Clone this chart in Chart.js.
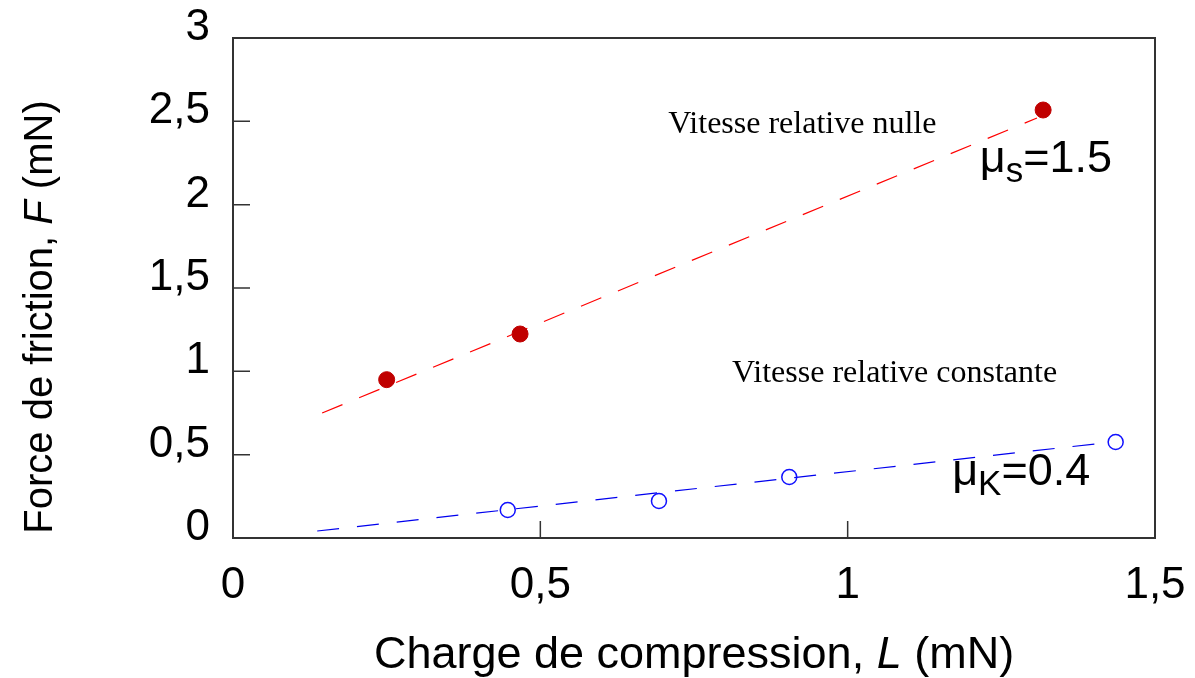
<!DOCTYPE html>
<html lang="fr">
<head>
<meta charset="utf-8">
<title>Force de friction</title>
<script src="https://cdn.jsdelivr.net/npm/chart.js@4.4.1/dist/chart.umd.min.js"></script>
<style>
  html, body { margin: 0; padding: 0; background: #fff; }
  #wrap { width: 1195px; height: 678px; }
</style>
</head>
<body>
<div id="wrap"><canvas id="frictionChart" width="1195" height="678"></canvas></div>
<script>
// Mesures : vitesse relative nulle (statique)
const chargeStatique = [0.25, 0.467, 1.318];
const forceStatique  = [0.95, 1.224, 2.568];

// Mesures : vitesse relative constante (cinétique)
const chargeCinetique = [0.447, 0.693, 0.905, 1.436];
const forceCinetique  = [0.168, 0.222, 0.366, 0.576];

// Droites d'ajustement (extrémités)
const fitStatiqueX  = [0.145, 1.308];
const fitStatiqueY  = [0.75, 2.52];
const fitCinetiqueX = [0.137, 1.402];
const fitCinetiqueY = [0.042, 0.564];

// Graduations des axes
const xTicks = [0, 0.5, 1, 1.5];
const yTicks = [0, 0.5, 1, 1.5, 2, 2.5, 3];

// Textes dans le graphe : [texte, indice, x, y, style]
const notes = [
  ["Vitesse relative nulle", "", 0.708, 2.43, "serif"],
  ["Vitesse relative constante", "", 0.812, 0.936, "serif"],
  ["μ", "s", 1.215, 2.196, "sans"],
  ["μ", "K", 1.17, 0.318, "sans"]
];
const noteValues = ["=1.5", "=0.4"];

const SANS = '"Liberation Sans", Arial, sans-serif';
const SERIF = '"Liberation Serif", "Times New Roman", serif';

const pts = (xs, ys) => xs.map((x, i) => ({ x, y: ys[i] }));
const fmt = (v) => String(v).replace(".", ",");

// Cadre + graduations vers l'intérieur
const framePlugin = {
  id: "frame",
  afterDatasetsDraw(chart) {
    const { ctx, chartArea: a, scales } = chart;
    ctx.save();
    ctx.strokeStyle = "#333";
    ctx.lineWidth = 2;
    ctx.strokeRect(a.left, a.top, a.right - a.left, a.bottom - a.top);
    ctx.lineWidth = 1.5;
    ctx.beginPath();
    yTicks.forEach((v) => {
      const y = scales.y.getPixelForValue(v);
      ctx.moveTo(a.left, y);
      ctx.lineTo(a.left + 17, y);
    });
    xTicks.forEach((v) => {
      const x = scales.x.getPixelForValue(v);
      ctx.moveTo(x, a.bottom);
      ctx.lineTo(x, a.bottom - 17);
    });
    ctx.stroke();
    ctx.restore();
  }
};

// Titres des axes (avec F et L en italique) et annotations
function drawParts(ctx, parts, x, y) {
  let w = 0;
  parts.forEach((p) => { ctx.font = p[1]; w += ctx.measureText(p[0]).width; });
  let cx = x - w / 2;
  parts.forEach((p) => {
    ctx.font = p[1];
    ctx.fillText(p[0], cx, y);
    cx += ctx.measureText(p[0]).width;
  });
}

const textPlugin = {
  id: "texts",
  afterDraw(chart) {
    const { ctx, chartArea: a, scales } = chart;
    ctx.save();
    ctx.fillStyle = "#000";
    ctx.textBaseline = "alphabetic";
    ctx.textAlign = "left";

    const nx = "45px " + SANS, itx = "italic 45px " + SANS;
    drawParts(ctx, [["Charge de compression, ", nx], ["L", itx], [" (mN)", nx]],
      (a.left + a.right) / 2, 668);

    const ny = "40px " + SANS, ity = "italic 40px " + SANS;
    ctx.translate(52, (a.top + a.bottom) / 2 + 29);
    ctx.rotate(-Math.PI / 2);
    drawParts(ctx, [["Force de friction, ", ny], ["F", ity], [" (mN)", ny]], 0, 0);
    ctx.setTransform(1, 0, 0, 1, 0, 0);

    notes.forEach((t, i) => {
      const x = scales.x.getPixelForValue(t[2]);
      const y = scales.y.getPixelForValue(t[3]);
      if (t[4] === "serif") {
        ctx.font = "32px " + SERIF;
        ctx.fillText(t[0], x, y);
      } else {
        ctx.font = "45px " + SANS;
        ctx.fillText(t[0], x, y);
        let cx = x + ctx.measureText(t[0]).width;
        ctx.font = "35px " + SANS;
        ctx.fillText(t[1], cx, y + 10);
        cx += ctx.measureText(t[1]).width;
        ctx.font = "45px " + SANS;
        ctx.fillText(noteValues[i - 2], cx, y);
      }
    });
    ctx.restore();
  }
};

new Chart(document.getElementById("frictionChart"), {
  type: "scatter",
  data: {
    datasets: [
      {
        label: "Vitesse relative nulle",
        data: pts(chargeStatique, forceStatique),
        pointRadius: 8,
        backgroundColor: "#C00000",
        borderColor: "#C00000",
        borderWidth: 1
      },
      {
        label: "Vitesse relative constante",
        data: pts(chargeCinetique, forceCinetique),
        pointRadius: 7.5,
        backgroundColor: "rgba(255,255,255,0)",
        borderColor: "#1010FF",
        borderWidth: 1.5
      },
      {
        label: "μs",
        data: pts(fitStatiqueX, fitStatiqueY),
        showLine: true,
        pointRadius: 0,
        borderColor: "#FF0000",
        borderWidth: 1.2,
        borderDash: [22, 18]
      },
      {
        label: "μK",
        data: pts(fitCinetiqueX, fitCinetiqueY),
        showLine: true,
        pointRadius: 0,
        borderColor: "#0000EE",
        borderWidth: 1.2,
        borderDash: [22, 18]
      }
    ]
  },
  options: {
    responsive: false,
    animation: false,
    layout: { padding: { top: 38, right: 40, left: 0, bottom: 0 } },
    plugins: { legend: { display: false }, tooltip: { enabled: false } },
    scales: {
      x: {
        type: "linear",
        min: 0, max: 1.5,
        afterBuildTicks: (s) => { s.ticks = xTicks.map((v) => ({ value: v })); },
        // hauteur fixe, sans marge auto pour les étiquettes
        afterFit: (s) => { s.height = 140; s.paddingLeft = 0; s.paddingRight = 0; },
        grid: { display: false, drawTicks: false },
        border: { display: false },
        ticks: { color: "#000", padding: 21, font: { family: SANS, size: 44 }, callback: fmt }
      },
      y: {
        type: "linear",
        min: 0, max: 3,
        afterBuildTicks: (s) => { s.ticks = yTicks.map((v) => ({ value: v })); },
        afterFit: (s) => { s.width = 233; s.paddingTop = 0; s.paddingBottom = 0; },
        grid: { display: false, drawTicks: false },
        border: { display: false },
        ticks: { color: "#000", padding: 23, labelOffset: -10, font: { family: SANS, size: 44 }, callback: fmt }
      }
    }
  },
  plugins: [framePlugin, textPlugin]
});
</script>
</body>
</html>
